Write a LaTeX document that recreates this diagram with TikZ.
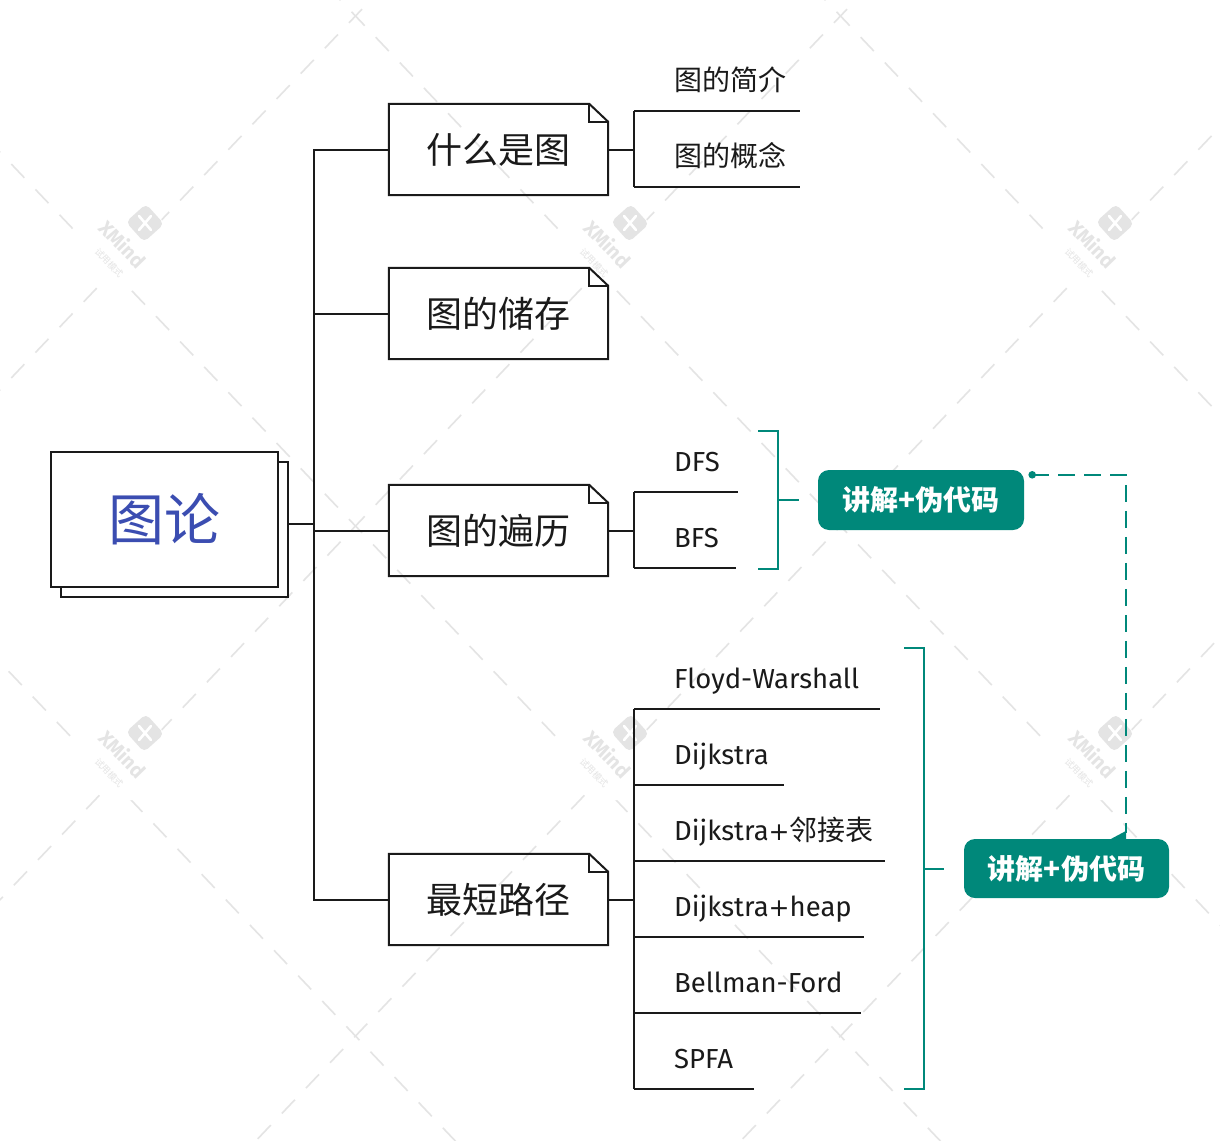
\documentclass[tikz,border=0pt]{standalone}
\usepackage{fontspec}
\setmainfont{Fira Sans}
\newfontfamily\cjk{Noto Sans CJK SC}
\newfontfamily\plusfont{DejaVu Sans}
\definecolor{tealc}{HTML}{00887A}
\definecolor{rootblue}{HTML}{3B4DB1}
\definecolor{ink}{HTML}{1A1A1A}
\definecolor{wm}{HTML}{E4E4E4}
\newcommand{\plussign}{{\plusfont\fontsize{25}{30}\selectfont +}}
\tikzset{
  line/.style={draw=ink, line width=2pt},
  topicbox/.style={minimum width=219pt, minimum height=91pt, inner sep=0pt, text=ink, font=\cjk\fontsize{36}{40}\selectfont},
  rootbox/.style={draw=ink, line width=2pt, fill=white, minimum width=227pt, minimum height=135pt, inner sep=0pt},
  sublabel/.style={anchor=base west, inner sep=0pt, text=ink, font=\fontsize{27.5}{32}\selectfont},
  cjklabel/.style={sublabel, font=\cjk\fontsize{28}{32}\selectfont},
  bracket/.style={draw=tealc, line width=2pt},
  callout/.style={fill=tealc, rounded corners=11pt, minimum width=206pt, minimum height=60pt, inner sep=0pt, text=white, font=\cjk\bfseries\fontsize{28}{32}\selectfont},
  wmline/.style={draw=wm, line width=1.6pt, dash pattern=on 19pt off 16pt},
  wmtext/.style={text=wm, inner sep=0pt, rotate=-46},
}
\begin{document}
\begin{tikzpicture}[x=1pt,y=-1pt]
\useasboundingbox (0,0) rectangle (1220,1140);
\fill[white] (0,0) rectangle (1220,1140);
% ---------- watermark ----------
\begin{scope}
  \clip (0,0) rectangle (1220,1140);
  \foreach \n in {-3,...,4} {
    \draw[wmline] ({113+485*\n-970},{271-1020}) -- ({113+485*\n+970},{271+1020});
    \draw[wmline] ({113+485*\n-970},{271+1020}) -- ({113+485*\n+970},{271-1020});
  }
  \foreach \cx/\cy [count=\i] in {113/271,598/271,1083/271,113/781,598/781,1083/781} {
    \fill[white] ({\cx+10},{\cy-26}) circle (46pt);
    \node[fill=wm, rounded corners=5pt, minimum size=27pt, inner sep=0pt, rotate=42] (wmlogo\i) at ({\cx+32},{\cy-48}) {};
    \draw[white, line width=2.6pt, line cap=round] ({\cx+32-6},{\cy-48-7}) -- ({\cx+32+6},{\cy-48+7});
    \draw[white, line width=2.6pt, line cap=round] ({\cx+32+6},{\cy-48-7}) -- ({\cx+32-6},{\cy-48+7});
    \node[wmtext, font=\bfseries\fontsize{20}{20}\selectfont] (wmx\i) at ({\cx+10},{\cy-27}) {XMind};
    \node[wmtext, font=\cjk\fontsize{9}{9}\selectfont] (wmc\i) at ({\cx-4},{\cy-8}) {试用模式};
  }
\end{scope}
% ---------- root ----------
\node[rootbox] (rootb) at (174.5,529.5) {};
\node[rootbox, text=rootblue, font=\cjk\fontsize{56}{60}\selectfont] (root) at (164.5,519.5) {图论};
% ---------- main topics ----------
\node[topicbox] (t1) at (498.5,149.5) {什么是图};
\node[topicbox] (t2) at (498.5,313.5) {图的储存};
\node[topicbox] (t3) at (498.5,530.5) {图的遍历};
\node[topicbox] (t4) at (498.5,899.5) {最短路径};
\foreach \n in {t1,t2,t3,t4} {
  \draw[line, line join=miter] (\n.north west) -- ([xshift=-19pt]\n.north east) -- ([yshift=-18pt]\n.north east) -- (\n.south east) -- (\n.south west) -- cycle;
  \draw[line] ([xshift=-19pt]\n.north east) |- ([yshift=-18pt]\n.north east);
}
% trunk
\draw[line] (t1.west) -- ++(-75,0) coordinate (k1) |- (t4.west);
\draw[line] (t2.west) -- (t2.west -| k1);
\draw[line] (t3.west) -- (t3.west -| k1);
\draw[line] ([yshift=5.5pt]rootb.east) -- ([yshift=5.5pt]rootb.east -| k1);
% ---------- subtopics of t1 ----------
\coordinate (a1) at (634,111);
\coordinate (a2) at (634,187);
\node[cjklabel] (a1t) at (674,90) {图的简介};
\node[cjklabel] (a2t) at (674,166) {图的概念};
\draw[line] (a1) -- ++(166,0);
\draw[line] (a2) -- ++(166,0);
\draw[line] (a1) -- (a2);
\draw[line] (t1.east) -- (t1.east -| a1);
% ---------- subtopics of t3 ----------
\coordinate (b1) at (634,492);
\coordinate (b2) at (634,568);
\node[sublabel] (b1t) at (674,471) {DFS};
\node[sublabel] (b2t) at (674,547) {BFS};
\draw[line] (b1) -- ++(104,0);
\draw[line] (b2) -- ++(102,0);
\draw[line] (b1) -- (b2);
\draw[line] (t3.east) -- (t3.east -| b1);
% ---------- subtopics of t4 ----------
\coordinate (s1) at (634,709);
\coordinate (s2) at (634,785);
\coordinate (s3) at (634,861);
\coordinate (s4) at (634,937);
\coordinate (s5) at (634,1013);
\coordinate (s6) at (634,1089);
\node[sublabel] (s1t) at (674,688) {Floyd-Warshall};
\node[sublabel] (s2t) at (674,764) {Dijkstra};
\node[sublabel] (s3t) at (674,840) {Dijkstra\plussign{\cjk\fontsize{28}{32}\selectfont 邻接表}};
\node[sublabel] (s4t) at (674,916) {Dijkstra\plussign heap};
\node[sublabel] (s5t) at (674,992) {Bellman-Ford};
\node[sublabel] (s6t) at (674,1068) {SPFA};
\draw[line] (s1) -- ++(246,0);
\draw[line] (s2) -- ++(150,0);
\draw[line] (s3) -- ++(251,0);
\draw[line] (s4) -- ++(230,0);
\draw[line] (s5) -- ++(227,0);
\draw[line] (s6) -- ++(120,0);
\draw[line] (s1) -- (s6);
\draw[line] (t4.east) -- (t4.east -| s1);
% ---------- callouts ----------
\node[callout] (c1) at (921,500) {讲解+伪代码};
\node[callout, minimum width=205pt, minimum height=59pt] (c2) at (1066.5,868.5) {讲解+伪代码};
% brackets
\coordinate (br1) at (778,500);
\draw[bracket] (758,431) -| (778,569) -- (758,569);
\draw[bracket] (br1) -- ([xshift=-19pt]c1.west |- br1);
\coordinate (br2) at (924,869);
\draw[bracket] (904,648) -| (924,1089) -- (904,1089);
\draw[bracket] (br2) -- ([xshift=-20pt]c2.west |- br2);
% dashed relation
\coordinate (d0) at ([xshift=8pt,yshift=-5pt]c1.north east);
\fill[tealc] (d0) circle (3.8pt);
\draw[tealc, line width=2pt, dash pattern=on 17pt off 9pt] (d0) -| ([xshift=-43pt,yshift=6pt]c2.north east);
\fill[tealc] ([xshift=-58pt]c2.north east) -- ([xshift=-43pt,yshift=8pt]c2.north east) -- ([xshift=-43pt]c2.north east) -- cycle;
\end{tikzpicture}
\end{document}
